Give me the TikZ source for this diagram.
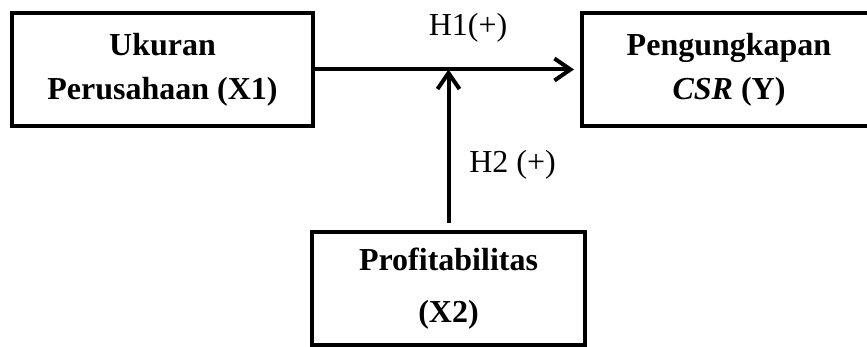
\documentclass[tikz,border=0pt]{standalone}
\usepackage{fontspec}
\setmainfont{Liberation Serif}
\usetikzlibrary{arrows.meta}

\begin{document}
\begin{tikzpicture}[x=1pt,y=-1pt,line width=4pt,
	>={Straight Barb[length=16pt,width=22pt]},
	varbox/.style={draw=black,rectangle,minimum height=113pt,align=center,
	font=\bfseries\fontsize{32}{44}\selectfont},
	hyp/.style={anchor=base,font=\fontsize{32}{38}\selectfont}]
	\useasboundingbox (0,0) rectangle (867,347);
	\node[varbox,minimum width=301pt] (X1) at (162.5,69.5) {Ukuran\\Perusahaan (X1)};
	\node[varbox,minimum width=294pt] (Y) at (729,69.5) {Pengungkapan\\\textit{CSR} (Y)};
	\node[varbox,minimum width=273pt,font=\bfseries\fontsize{32}{52}\selectfont]
	(X2) at (448.5,288.5) {Profitabilitas\\(X2)};
	\coordinate (mid) at (X2.north |- X1.east);
	\draw[->,shorten >=6pt] (X1) -- (Y) node[hyp] (h1) at (468,36) {H1(+)};
	\draw[->,shorten <=7pt] (X2) -- (mid);
	\node[hyp] (h2) at (512.5,173) {H2 (+)};
\end{tikzpicture}
\end{document}
